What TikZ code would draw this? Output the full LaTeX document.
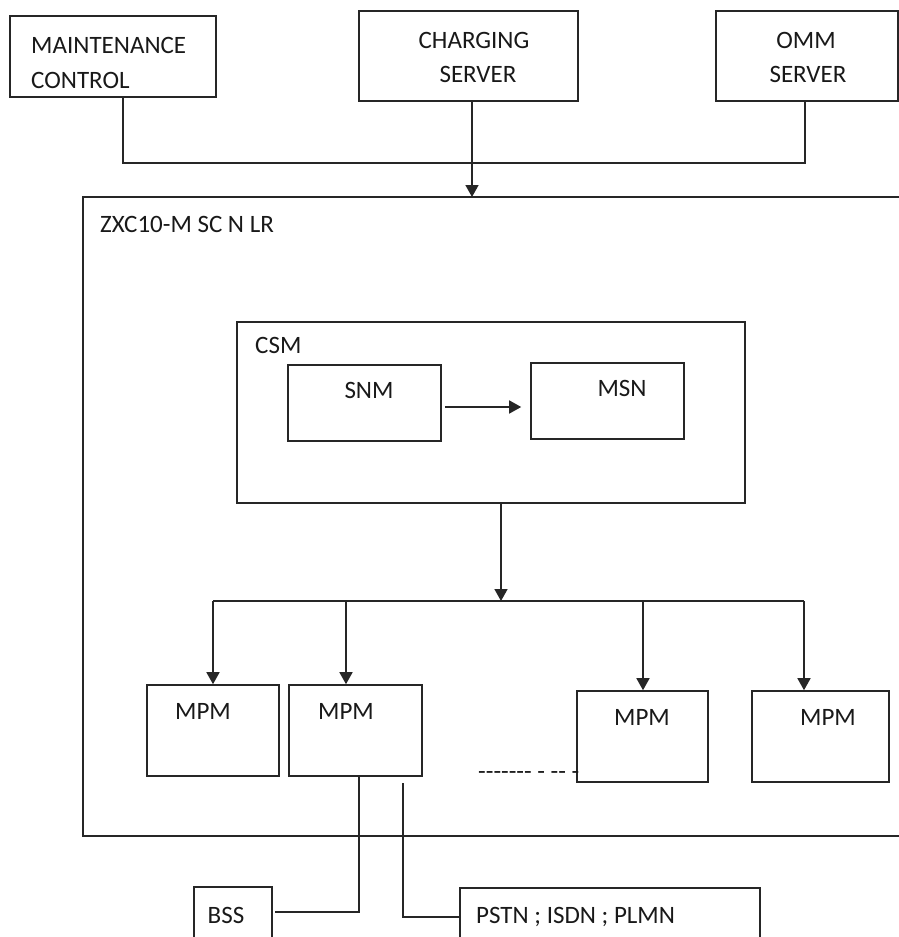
\documentclass[tikz,border=0pt]{standalone}
\usepackage{fontspec}
\setmainfont{Carlito}
\usetikzlibrary{arrows.meta}
\begin{document}
\begin{tikzpicture}[x=1pt,y=-1pt,
  box/.style={draw=black!85, line width=1.6pt, inner sep=0pt, fill=none},
  lbl/.style={inner sep=0pt, anchor=base, font=\fontsize{25}{30}\selectfont, text=black!90},
  lblw/.style={lbl, anchor=base west},
  con/.style={draw=black!85, line width=1.6pt},
  arr/.style={con, -{Triangle[width=13pt,length=12pt]}}]
\useasboundingbox (0,0) rectangle (899,937);
\fill[white] (0,0) rectangle (899,937);
\begin{scope}
\clip (0,0) rectangle (899,937);
% top boxes
\node[box, minimum width=206pt, minimum height=81pt] (maint) at (113,56.5) {};
\node[box, minimum width=219pt, minimum height=90pt] (charging) at (468.5,56) {};
\node[box, minimum width=182pt, minimum height=90pt] (omm) at (807,56) {};
% big system box (right edge beyond the picture)
\node[box, minimum width=870pt, minimum height=639pt] (zxc) at (518,516.5) {};
% CSM and inner boxes
\node[box, minimum width=508pt, minimum height=181pt] (csm) at (491,412.5) {};
\node[box, minimum width=153pt, minimum height=76pt] (snm) at (364.5,403) {};
\node[box, minimum width=153pt, minimum height=76pt] (msn) at (607.5,401) {};
% MPM boxes
\node[box, minimum width=132pt, minimum height=91pt] (mpm1) at (213,730.5) {};
\node[box, minimum width=133pt, minimum height=91pt] (mpm2) at (355.5,730.5) {};
\node[box, minimum width=131pt, minimum height=91pt] (mpm3) at (642.5,736.5) {};
\node[box, minimum width=137pt, minimum height=91pt] (mpm4) at (820.5,736.5) {};
% bottom boxes (cut by the picture edge)
\node[box, minimum width=78pt, minimum height=80pt] (bss) at (233,927) {};
\node[box, minimum width=300pt, minimum height=80pt] (pstn) at (610,928) {};

% labels
\node[lblw] (tmaint) at (31,53) {MAINTENANCE};
\node[lblw] (tcontrol) at (31,88) {CONTROL};
\node[lbl] (tcharging) at (474,48) {CHARGING};
\node[lbl] (tcserver) at (478,82) {SERVER};
\node[lbl] (tomm) at (806,48) {OMM};
\node[lbl] (toserver) at (808,82) {SERVER};
\node[lblw] (tzxc) at (100,232) {ZXC10-M SC N LR};
\node[lblw] (tcsm) at (255,353) {CSM};
\node[lbl] (tsnm) at (369,398) {SNM};
\node[lbl] (tmsn) at (622,396) {MSN};
\node[lbl] (tm1) at (203,719) {MPM};
\node[lbl] (tm2) at (346,719) {MPM};
\node[lbl] (tm3) at (642,725) {MPM};
\node[lbl] (tm4) at (828,725) {MPM};
\node[lbl] (tbss) at (226,923) {BSS};
\node[lblw] (tpstn) at (476,923) {PSTN ; ISDN ; PLMN};
\node[lblw] (tdots) at (478,779) {{-}{-}{-}{-}{-}{-}{-} {-} {-}{-} {-}};

% coordinates for connector bends
\coordinate (bus1) at (472,163);
\coordinate (ctop) at (472,197);
\coordinate (bus2) at (501,601);
\coordinate (d1) at (213,601);
\coordinate (d2) at (346,601);
\coordinate (d3) at (643,601);
\coordinate (d4) at (804,601);
\coordinate (m2a) at (359,776);
\coordinate (m2b) at (403,783);
\coordinate (bssend) at (275,912);
\coordinate (pstnend) at (460,917);

% top connectors
\draw[con] ([xshift=10pt]maint.south) |- (bus1) -| ([xshift=-2pt]omm.south);
\draw[arr] ([xshift=3.5pt]charging.south) -- (ctop);
% CSM internals
\draw[arr] ([xshift=3pt,yshift=-4pt]snm.east) -- ([xshift=-9pt,yshift=-6pt]msn.west);
% CSM to MPMs
\draw[arr] ([xshift=10pt]csm.south) -- (bus2);
\draw[con] (d1) -- (d4);
\draw[arr] (d1) -- (d1 |- mpm1.north);
\draw[arr] (d2) -- (d2 |- mpm2.north);
\draw[arr] (d3) -- (d3 |- mpm3.north);
\draw[arr] (d4) -- (d4 |- mpm4.north);
% MPM to external networks
\draw[con] (m2a) |- (bssend);
\draw[con] (m2b) |- (pstnend);
\end{scope}
\end{tikzpicture}
\end{document}
